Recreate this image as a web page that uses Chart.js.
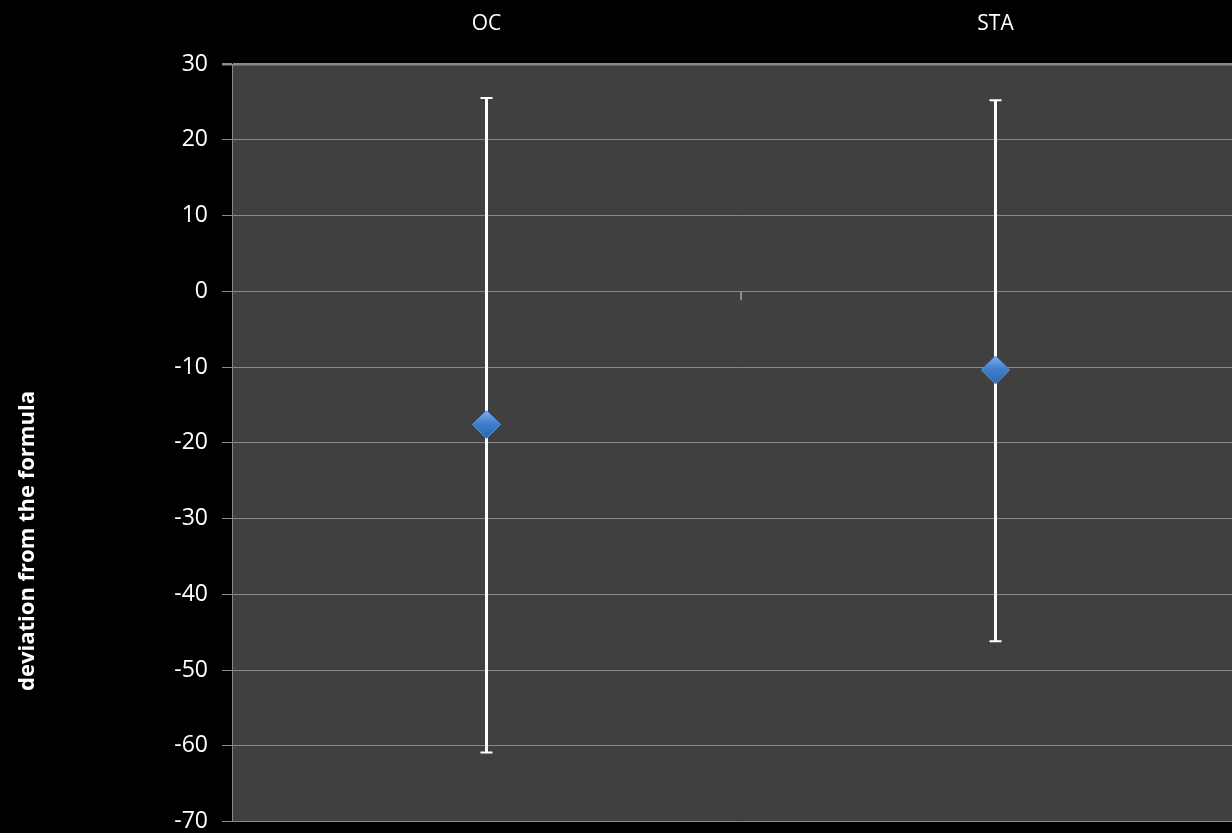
<!DOCTYPE html>
<html>
<head>
<meta charset="utf-8">
<script src="https://cdn.jsdelivr.net/npm/chart.js@4.4.0/dist/chart.umd.min.js"></script>
<style>
  html, body { margin: 0; padding: 0; background: #000; overflow: hidden; }
  #wrap { width: 1232px; height: 833px; overflow: hidden; }
  canvas { display: block; }
</style>
</head>
<body>
<div id="wrap"><canvas id="c" width="1250" height="847"></canvas></div>
<script>
const categories = ['OC', 'STA'];
const meanValues = [-17.6, -10.4];
const errorHigh = [25.5, 25.2];
const errorLow = [-60.9, -46.2];
const yTicks = { min: -70, max: 30, step: 10 };
const yTitle = 'deviation from the formula';

const FONT = "'Open Sans', 'Noto Sans', sans-serif";

const bgPlugin = {
  id: 'plotBg',
  beforeDraw(chart) {
    const { ctx, chartArea: a } = chart;
    ctx.save();
    ctx.fillStyle = '#404040';
    ctx.fillRect(a.left, a.top, a.right - a.left, a.bottom - a.top);
    ctx.restore();
  }
};

const errPlugin = {
  id: 'errBars',
  beforeDatasetsDraw(chart) {
    const { ctx } = chart;
    const xs = chart.scales.x, ys = chart.scales.y;
    ctx.save();
    ctx.strokeStyle = '#ffffff';
    categories.forEach((c, i) => {
      const x = xs.getPixelForValue(i);
      const yt = ys.getPixelForValue(errorHigh[i]);
      const yb = ys.getPixelForValue(errorLow[i]);
      ctx.lineWidth = 3;
      ctx.beginPath();
      ctx.moveTo(x, yt); ctx.lineTo(x, yb);
      ctx.stroke();
      ctx.lineWidth = 2;
      ctx.beginPath();
      ctx.moveTo(x - 6, yt); ctx.lineTo(x + 6, yt);
      ctx.moveTo(x - 6, yb); ctx.lineTo(x + 6, yb);
      ctx.stroke();
    });
    const xm = (xs.getPixelForValue(0) + xs.getPixelForValue(1)) / 2;
    const y0 = ys.getPixelForValue(0);
    ctx.strokeStyle = '#8a8a8a';
    ctx.lineWidth = 2;
    ctx.beginPath();
    ctx.moveTo(xm, y0); ctx.lineTo(xm, y0 + 9);
    ctx.stroke();
    ctx.restore();
  }
};

const titlePlugin = {
  id: 'yTitle',
  afterDraw(chart) {
    const { ctx } = chart;
    ctx.save();
    ctx.translate(28, 541);
    ctx.rotate(-Math.PI / 2);
    ctx.fillStyle = '#ffffff';
    ctx.font = 'bold 22px ' + FONT;
    ctx.textAlign = 'center';
    ctx.textBaseline = 'middle';
    ctx.fillText(yTitle, 0, 0);
    ctx.restore();
  }
};

function diamondFill(c) {
  const el = c.element;
  if (!el || el.y === undefined) return '#3b7cc9';
  const g = c.chart.ctx.createLinearGradient(0, el.y - 14, 0, el.y + 14);
  g.addColorStop(0, '#7ab3ee');
  g.addColorStop(0.45, '#3f80cc');
  g.addColorStop(1, '#2d66ad');
  return g;
}

new Chart(document.getElementById('c'), {
  type: 'line',
  data: {
    labels: categories,
    datasets: [{
      data: meanValues,
      showLine: false,
      pointStyle: 'rectRot',
      pointRadius: 14,
      pointHoverRadius: 14,
      pointBackgroundColor: diamondFill,
      pointBorderColor: '#5d97d8',
      pointBorderWidth: 1
    }]
  },
  options: {
    responsive: false,
    devicePixelRatio: 1,
    animation: false,
    layout: { autoPadding: false, padding: { left: 0, right: 0, top: 0, bottom: 13 } },
    plugins: { legend: { display: false }, tooltip: { enabled: false } },
    scales: {
      x: {
        type: 'category',
        position: 'top',
        offset: true,
        grid: { display: false, drawTicks: false },
        border: { display: false },
        ticks: { color: '#ffffff', font: { family: FONT, size: 21 }, padding: 27 },
        afterFit(s) { s.height = 64; }
      },
      y: {
        min: yTicks.min,
        max: yTicks.max,
        ticks: { stepSize: yTicks.step, color: '#ffffff', font: { family: FONT, size: 23, lineHeight: 1.0 }, padding: 14 },
        grid: {
          color: '#8a8a8a',
          lineWidth: (c) => (c.tick && c.tick.value === yTicks.max ? 2.5 : 1),
          tickLength: 10
        },
        border: { color: '#8a8a8a', width: 1 },
        afterFit(s) { s.width = 232; }
      }
    }
  },
  plugins: [bgPlugin, errPlugin, titlePlugin]
});
</script>
</body>
</html>
